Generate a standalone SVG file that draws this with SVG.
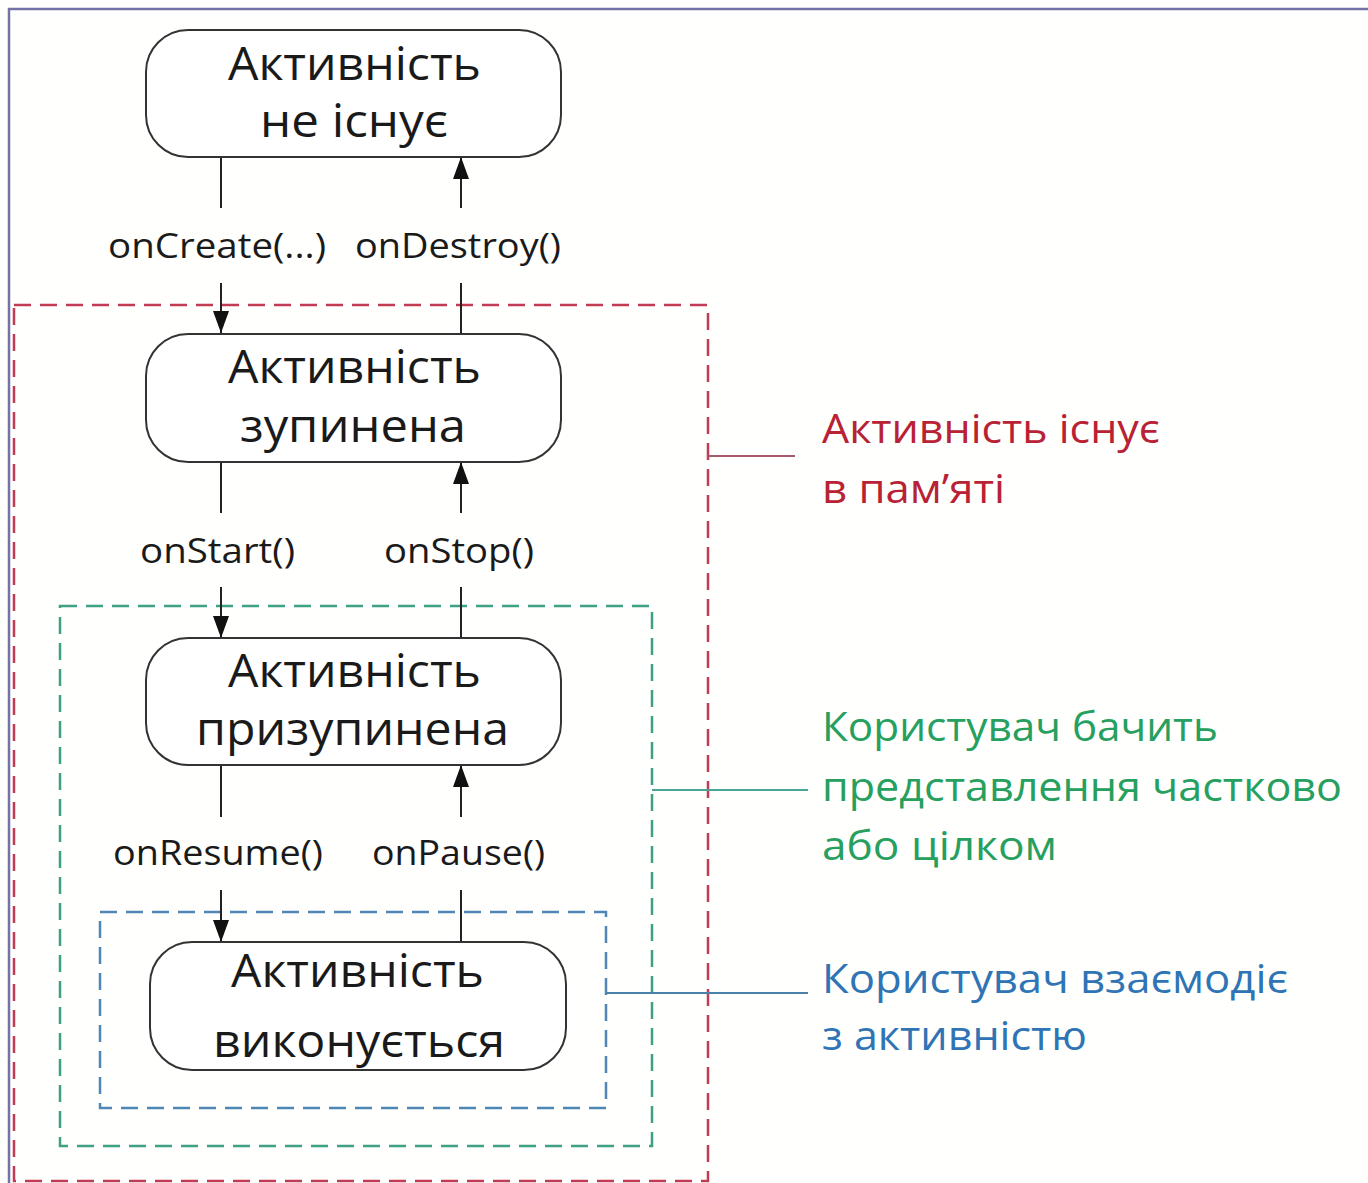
<svg xmlns="http://www.w3.org/2000/svg" width="1368" height="1183" viewBox="0 0 1368 1183">
<style>
.frame{fill:none;stroke:#7373a8;stroke-width:2.5}
.node rect{fill:#fff;stroke:#333;stroke-width:2}
.nt{font-family:"Open Sans","Noto Sans",sans-serif;font-size:45px;fill:#1a1a1a}
.lbl{font-family:"Open Sans","Noto Sans",sans-serif;font-size:35px;fill:#1a1a1a}
.side{font-family:"Open Sans","Noto Sans",sans-serif;font-size:40px}
.conn line{stroke:#222;stroke-width:2}
.dash{fill:none;stroke-width:2.5;stroke-dasharray:17 9}
</style>
<defs>
<marker id="ah" markerWidth="22" markerHeight="16" refX="22" refY="8" orient="auto" markerUnits="userSpaceOnUse" viewBox="0 0 22 16">
<path d="M0,0 L22,8 L0,16 Z" fill="#111"/>
</marker>
</defs>
<rect x="0" y="0" width="1368" height="1183" fill="#fffffd"/>
<path class="frame" d="M9,1183 V9 H1368"/>

<g id="zones">
<rect id="zone-memory" class="dash" x="14" y="305" width="694" height="876" stroke="#c23b55"/>
<rect id="zone-visible" class="dash" x="60" y="606" width="592" height="540" stroke="#3ea184"/>
<rect id="zone-interactive" class="dash" x="100" y="912" width="506" height="196" stroke="#4f86b8"/>
<line x1="708" y1="456" x2="795" y2="456" stroke="#a85a6a" stroke-width="2"/>
<line x1="652" y1="790" x2="808" y2="790" stroke="#4aa596" stroke-width="2"/>
<line x1="606" y1="993" x2="808" y2="993" stroke="#4a80aa" stroke-width="2"/>
</g>

<g id="connectors" class="conn">
<line x1="221" y1="157" x2="221" y2="208"/>
<line x1="221" y1="283" x2="221" y2="333" marker-end="url(#ah)"/>
<line x1="461" y1="333" x2="461" y2="283"/>
<line x1="461" y1="208" x2="461" y2="157" marker-end="url(#ah)"/>
<line x1="221" y1="462" x2="221" y2="513"/>
<line x1="221" y1="587" x2="221" y2="638" marker-end="url(#ah)"/>
<line x1="461" y1="638" x2="461" y2="587"/>
<line x1="461" y1="513" x2="461" y2="462" marker-end="url(#ah)"/>
<line x1="221" y1="765" x2="221" y2="817"/>
<line x1="221" y1="890" x2="221" y2="942" marker-end="url(#ah)"/>
<line x1="461" y1="942" x2="461" y2="890"/>
<line x1="461" y1="817" x2="461" y2="765" marker-end="url(#ah)"/>
<text class="lbl" x="108" y="258" textLength="218" lengthAdjust="spacingAndGlyphs">onCreate(...)</text>
<text class="lbl" x="355" y="258" textLength="206" lengthAdjust="spacingAndGlyphs">onDestroy()</text>
<text class="lbl" x="140" y="563" textLength="155" lengthAdjust="spacingAndGlyphs">onStart()</text>
<text class="lbl" x="384" y="563" textLength="150" lengthAdjust="spacingAndGlyphs">onStop()</text>
<text class="lbl" x="113" y="865" textLength="210" lengthAdjust="spacingAndGlyphs">onResume()</text>
<text class="lbl" x="372" y="865" textLength="173" lengthAdjust="spacingAndGlyphs">onPause()</text>
</g>

<g id="node-not-exist" class="node">
<rect x="146" y="30" width="415" height="127" rx="42"/>
<text class="nt" x="228" y="80" textLength="253" lengthAdjust="spacingAndGlyphs">Активність</text>
<text class="nt" x="260" y="137" textLength="188" lengthAdjust="spacingAndGlyphs">не існує</text>
</g>
<g id="node-stopped" class="node">
<rect x="146" y="334" width="415" height="128" rx="42"/>
<text class="nt" x="228" y="383" textLength="253" lengthAdjust="spacingAndGlyphs">Активність</text>
<text class="nt" x="240" y="442" textLength="226" lengthAdjust="spacingAndGlyphs">зупинена</text>
</g>
<g id="node-paused" class="node">
<rect x="146" y="638" width="415" height="127" rx="42"/>
<text class="nt" x="228" y="687" textLength="253" lengthAdjust="spacingAndGlyphs">Активність</text>
<text class="nt" x="196" y="745" textLength="313" lengthAdjust="spacingAndGlyphs">призупинена</text>
</g>
<g id="node-running" class="node">
<rect x="150" y="942" width="416" height="128" rx="42"/>
<text class="nt" x="231" y="987" textLength="253" lengthAdjust="spacingAndGlyphs">Активність</text>
<text class="nt" x="213" y="1057" textLength="292" lengthAdjust="spacingAndGlyphs">виконується</text>
</g>

<g id="label-memory" fill="#b82234">
<text class="side" x="822" y="443" textLength="338" lengthAdjust="spacingAndGlyphs">Активність існує</text>
<text class="side" x="822" y="503" textLength="183" lengthAdjust="spacingAndGlyphs">в пам’яті</text>
</g>
<g id="label-visible" fill="#26a05e">
<text class="side" x="822" y="741" textLength="396" lengthAdjust="spacingAndGlyphs">Користувач бачить</text>
<text class="side" x="822" y="801" textLength="520" lengthAdjust="spacingAndGlyphs">представлення частково</text>
<text class="side" x="822" y="860" textLength="235" lengthAdjust="spacingAndGlyphs">або цілком</text>
</g>
<g id="label-interactive" fill="#2f74b5">
<text class="side" x="822" y="993" textLength="466" lengthAdjust="spacingAndGlyphs">Користувач взаємодіє</text>
<text class="side" x="822" y="1050" textLength="265" lengthAdjust="spacingAndGlyphs">з активністю</text>
</g>
</svg>
